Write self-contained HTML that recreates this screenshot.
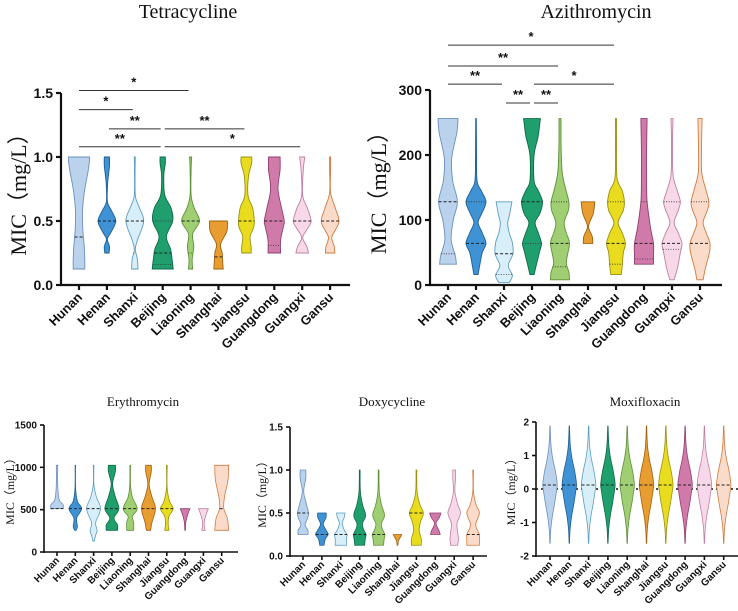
<!DOCTYPE html>
<html><head><meta charset="utf-8"><style>
body{margin:0;background:#fff;}
svg{display:block;}
.tl{font-family:"Liberation Sans",sans-serif;font-weight:bold;fill:#111;}
.tt{font-family:"Liberation Serif",serif;fill:#111;}
</style></head><body>
<svg id="s" width="738" height="611" viewBox="0 0 738 611" xmlns="http://www.w3.org/2000/svg"></svg>
<script>
const categories=["Hunan","Henan","Shanxi","Beijing","Liaoning","Shanghai","Jiangsu","Guangdong","Guangxi","Gansu"];
const fills=["#bad2ec","#3f92d4","#d8eef9","#1f9e6e","#9fcf72","#e89d30","#e9dc1e","#d07aa9","#f7d8e8","#fadac8"];
const strokes=["#6b8fbe","#1e5f95","#5c9cc2","#0f6a45","#5f8f3a","#a06010","#9a9010","#8f3f70","#c07fa0","#d07a40"];

const tetraProfiles=[
[[.125,.55],[.2,.55],[.3,.5],[.45,.35],[.6,.35],[.75,.55],[.88,.85],[.97,1],[1,1]],
[[.25,.2],[.3,.25],[.36,.05],[.42,.45],[.5,.85],[.58,.45],[.65,.05],[.8,.08],[.93,.25],[1,.25]],
[[.125,.3],[.2,.25],[.28,.05],[.35,.25],[.5,.85],[.62,.35],[.7,.05],[.9,.03],[1,.05]],
[[.125,1],[.2,.9],[.28,.75],[.38,.35],[.5,.95],[.6,.8],[.7,.2],[.85,.1],[.95,.25],[1,.25]],
[[.125,.2],[.2,.15],[.3,.3],[.4,.2],[.5,.85],[.6,.35],[.7,.05],[.9,.05],[1,.1]],
[[.125,.45],[.18,.4],[.25,.35],[.32,.2],[.42,.8],[.5,.85]],
[[.25,.45],[.3,.45],[.38,.35],[.45,.7],[.5,.75],[.6,.6],[.7,.15],[.85,.2],[.95,.5],[1,.5]],
[[.25,.6],[.35,.6],[.45,.85],[.5,.95],[.6,.7],[.75,.35],[.9,.55],[1,.55]],
[[.25,.6],[.3,.45],[.37,.05],[.44,.5],[.5,.85],[.6,.5],[.7,.05],[.9,.1],[1,.25]],
[[.25,.45],[.3,.4],[.37,.15],[.43,.5],[.5,.85],[.6,.5],[.72,.05],[.9,.05],[1,.05]]];
const tetraMedians=[.375,.5,.5,.25,.5,.22,.5,.5,.5,.5];
const tetraQuartiles=[[],[],[.25],[.16,.5],[.25],[],[],[.31],[],[]];

const aziProfiles=[
[[32,.8],[45,.7],[70,.3],[100,.5],[128,.9],[160,.45],[195,.35],[235,.85],[256,.95]],
[[16,.2],[30,.35],[50,.6],[64,.95],[80,.6],[96,.2],[110,.55],[128,.95],[145,.5],[160,.1],[200,.05],[256,.03]],
[[4,.5],[15,.8],[30,.4],[48,.85],[65,.8],[80,.5],[95,.35],[110,.55],[128,.75]],
[[16,.2],[30,.4],[50,.7],[64,.9],[80,.6],[96,.3],[110,.75],[128,1],[145,.6],[160,.2],[200,.2],[230,.6],[256,.8]],
[[8,.9],[20,.85],[35,.6],[64,.9],[80,.6],[96,.4],[115,.8],[128,.85],[150,.5],[175,.2],[220,.1],[256,.1]],
[[64,.45],[75,.4],[90,.05],[110,.5],[128,.65]],
[[16,.5],[30,.6],[50,.7],[64,.9],[80,.6],[96,.2],[115,.7],[128,.8],[145,.6],[165,.1],[220,.05],[256,.05]],
[[32,.9],[45,.9],[64,.9],[90,.6],[128,.3],[160,.25],[210,.25],[256,.3]],
[[8,.2],[25,.5],[50,.8],[64,.95],[80,.6],[96,.2],[115,.6],[128,.8],[145,.5],[170,.1],[220,.05],[256,.1]],
[[8,.3],[25,.5],[50,.9],[64,.95],[80,.6],[96,.3],[115,.7],[128,.85],[150,.5],[175,.15],[220,.15],[256,.2]]];
const aziMedians=[128,64,48,128,64,null,64,64,64,64];
const aziQuartiles=[[48],[128],[16],[64],[28,128],[],[32,128],[40,128],[55,128],[128]];

const eryProfiles=[
[[512,.9],[560,.85],[620,.3],[800,.1],[1024,.1]],
[[256,.1],[300,.3],[400,.2],[512,.9],[600,.3],[750,.05],[1024,.03]],
[[128,.1],[200,.3],[256,.5],[350,.3],[512,1],[650,.4],[800,.05],[1024,.05]],
[[256,.8],[320,.8],[400,.3],[512,1],[650,.5],[800,.1],[950,.5],[1024,.5]],
[[256,.5],[350,.5],[420,.3],[512,1],[650,.3],[800,.05],[1024,.05]],
[[256,.3],[350,.5],[512,1],[650,.5],[800,.1],[950,.4],[1024,.4]],
[[256,.3],[330,.2],[420,.3],[512,.9],[600,.4],[750,.05],[1024,.05]],
[[256,.05],[350,.1],[450,.4],[512,.7]],
[[256,.25],[330,.1],[420,.3],[512,.7]],
[[256,1],[400,.8],[512,.3],[650,.4],[850,.9],[1024,1]]];
const eryMedians=[512,512,512,512,512,512,512,null,null,512];

const doxyProfiles=[
[[.25,.7],[.3,.7],[.36,.3],[.45,.7],[.5,.8],[.6,.5],[.75,.1],[.9,.4],[1,.4]],
[[.125,.3],[.2,.5],[.25,.9],[.3,.6],[.37,.2],[.45,.6],[.5,.6]],
[[.125,.8],[.2,.8],[.25,.9],[.3,.5],[.38,.2],[.45,.5],[.5,.6]],
[[.125,.7],[.2,.8],[.25,.9],[.32,.5],[.38,.4],[.45,.8],[.5,.8],[.6,.4],[.75,.1],[1,.05]],
[[.125,.7],[.2,.8],[.25,.9],[.32,.5],[.38,.4],[.45,.8],[.5,.8],[.6,.4],[.75,.1],[1,.05]],
[[.125,.05],[.18,.15],[.23,.5],[.25,.6]],
[[.125,.7],[.2,.7],[.3,.4],[.4,.6],[.5,1],[.6,.5],[.75,.1],[1,.05]],
[[.25,.7],[.3,.5],[.38,.1],[.45,.6],[.5,.8]],
[[.125,.5],[.2,.6],[.28,.5],[.38,.4],[.5,.9],[.6,.5],[.75,.1],[.9,.2],[1,.2]],
[[.125,.9],[.2,.9],[.25,.9],[.32,.5],[.38,.4],[.5,.9],[.6,.4],[.75,.05],[1,.05]]];
const doxyMedians=[.5,.25,.25,.25,.25,null,.5,null,null,.25];

const moxProfile=[[-1.62,.02],[-1.2,.1],[-0.8,.3],[-0.4,.6],[0,.85],[0.15,.9],[0.5,.7],[0.9,.35],[1.3,.12],[1.88,.02]];
const moxMedians=[.12,.12,.12,.12,.12,.12,.12,.12,.12,.12];

const tetraTicks=[0,0.5,1.0,1.5], tetraTickLabels=["0.0","0.5","1.0","1.5"];
const aziTicks=[0,100,200,300], aziTickLabels=["0","100","200","300"];
const eryTicks=[0,500,1000,1500], eryTickLabels=["0","500","1000","1500"];
const doxyTicks=[0,0.5,1.0,1.5], doxyTickLabels=["0.0","0.5","1.0","1.5"];
const moxTicks=[-2,-1,0,1,2], moxTickLabels=["-2","-1","0","1","2"];

const tetraSig=[[0,4,1.52,"*"],[0,2,1.37,"*"],[1,3,1.22,"**"],[3,6,1.22,"**"],[0,3,1.08,"**"],[3,8,1.08,"*"]];
const aziSig=[[0,6,369,"*"],[0,4,337,"**"],[0,2,309,"**"],[3,6,309,"*"],[2,3,280,"**"],[3,4,280,"**"]];

const NS="http://www.w3.org/2000/svg", S=document.getElementById('s');
function el(tag,attrs,parent){const e=document.createElementNS(NS,tag);for(const k in attrs)e.setAttribute(k,attrs[k]);(parent||S).appendChild(e);return e;}

function catmull(pts){let d="";for(let i=0;i<pts.length-1;i++){const p0=pts[Math.max(0,i-1)],p1=pts[i],p2=pts[i+1],p3=pts[Math.min(pts.length-1,i+2)];
const c1=[p1[0]+(p2[0]-p0[0])/6,p1[1]+(p2[1]-p0[1])/6],c2=[p2[0]-(p3[0]-p1[0])/6,p2[1]-(p3[1]-p1[1])/6];
d+=` C${c1[0].toFixed(1)},${c1[1].toFixed(1)} ${c2[0].toFixed(1)},${c2[1].toFixed(1)} ${p2[0].toFixed(1)},${p2[1].toFixed(1)}`;}return d;}

function panel(cfg){
 const g=el('g',{});
 
 
 const y=v=>cfg.yBot-(v-cfg.vmin)/(cfg.vmax-cfg.vmin)*(cfg.yBot-cfg.yTop);
 const x=i=>cfg.cx0+i*cfg.dx;
 const t=el('text',{x:cfg.titleX,y:cfg.titleY,'text-anchor':'middle','font-size':cfg.titleSize,class:'tt'},g);t.textContent=cfg.title;
 
 
 const yl=el('text',{transform:`translate(${cfg.ylX},${(cfg.yTop+cfg.yBot)/2}) rotate(-90)`,'text-anchor':'middle','font-size':cfg.ylSize,class:'tt'},g);yl.textContent="MIC（mg/L）";
 
 
 if(cfg.zeroLine){const zl=el('line',{x1:cfg.ax,x2:738,y1:y(0),y2:y(0),stroke:'#111','stroke-width':1.6,'stroke-dasharray':'2,3'},g);
 
 }
 cfg.profiles.forEach((prof,i)=>{
  const cx=x(i);
  const right=prof.map(p=>[cx+p[1]*cfg.hw,y(p[0])]);
  const left=prof.slice().reverse().map(p=>[cx-p[1]*cfg.hw,y(p[0])]);
  let d=`M${cx},${y(prof[0][0])} L${right[0][0]},${right[0][1]}`+catmull(right)+` L${left[0][0]},${left[0][1]}`+catmull(left)+"Z";
  const p=el('path',{d,fill:fills[i],stroke:strokes[i],'stroke-width':cfg.sw},g);
  
  
  const wAt=v=>{for(let k=0;k<prof.length-1;k++){if(v>=prof[k][0]&&v<=prof[k+1][0]){const f=(v-prof[k][0])/(prof[k+1][0]-prof[k][0]);return prof[k][1]+f*(prof[k+1][1]-prof[k][1]);}}return 0;};
  const med=cfg.medians[i];
  if(med!=null){const w=wAt(med)*cfg.hw;const m=el('line',{x1:cx-w,x2:cx+w,y1:y(med),y2:y(med),stroke:'#222','stroke-width':1,'stroke-dasharray':'3,2'},g);
   
   }
  (cfg.quartiles?cfg.quartiles[i]:[]).forEach(q=>{const w=wAt(q)*cfg.hw;const m=el('line',{x1:cx-w,x2:cx+w,y1:y(q),y2:y(q),stroke:'#333','stroke-width':.8,'stroke-dasharray':'1,1.5'},g);
   
   });
 });
 const ya=el('line',{x1:cfg.ax,x2:cfg.ax,y1:cfg.yTop,y2:cfg.yBot+1,stroke:'#111','stroke-width':cfg.aw},g);
 
 
 const xa=el('line',{x1:cfg.ax-cfg.aw/2,x2:cfg.xEnd,y1:cfg.yBot,y2:cfg.yBot,stroke:'#111','stroke-width':cfg.aw},g);
 
 
 cfg.ticks.forEach((v,k)=>{el('line',{x1:cfg.ax-cfg.tk,x2:cfg.ax,y1:y(v),y2:y(v),stroke:'#111','stroke-width':cfg.aw},g);
  const tl=el('text',{x:cfg.ax-cfg.tk-3,y:y(v)+cfg.tickSize*0.35,'text-anchor':'end','font-size':cfg.tickSize,class:'tl'},g);tl.textContent=cfg.tickLabels[k];
  
  });
 categories.forEach((c,i)=>{el('line',{x1:x(i),x2:x(i),y1:cfg.yBot,y2:cfg.yBot+cfg.tk,stroke:'#111','stroke-width':cfg.aw},g);
  const lx=x(i)+cfg.lblDx, ly=cfg.yBot+cfg.tk+cfg.lblDy;
  const tl=el('text',{transform:`translate(${lx},${ly}) rotate(-45)`,'text-anchor':'end','font-size':cfg.lblSize,class:'tl'},g);tl.textContent=c;
  
  });
 (cfg.sig||[]).forEach(s=>{const yy=y(s[2]);const x1=x(s[0])+(s[0]>0?2:0),x2=x(s[1])-2;
  const l=el('line',{x1,x2,y1:yy,y2:yy,stroke:'#333','stroke-width':1},g);
  
  
  const st=el('text',{x:(x1+x2)/2,y:yy-4,'text-anchor':'middle','font-size':13,class:'tl'},g);st.textContent=s[3];
  
  });
}

panel({name:'tetracycline',title:'Tetracycline',titleX:188,titleY:18,titleSize:20,ylX:26,ylSize:22,vmin:0,vmax:1.5,yTop:93,yBot:285,ax:61,xEnd:350,cx0:79,dx:27.9,hw:10.5,sw:.9,aw:2.2,tk:5,tickSize:14,ticks:tetraTicks,tickLabels:tetraTickLabels,lblSize:13,lblDx:4,lblDy:8,profiles:tetraProfiles,medians:tetraMedians,quartiles:tetraQuartiles,sig:tetraSig});
panel({name:'azithromycin',title:'Azithromycin',titleX:596,titleY:18,titleSize:20,ylX:386,ylSize:22,vmin:0,vmax:300,yTop:90,yBot:285,ax:430,xEnd:722,cx0:448,dx:28,hw:10.5,sw:.9,aw:2.2,tk:5,tickSize:14,ticks:aziTicks,tickLabels:aziTickLabels,lblSize:13,lblDx:4,lblDy:8,profiles:aziProfiles,medians:aziMedians,quartiles:aziQuartiles,sig:aziSig});
panel({name:'erythromycin',title:'Erythromycin',titleX:143,titleY:406,titleSize:13,ylX:14,ylSize:12,vmin:0,vmax:1500,yTop:425,yBot:552,ax:44,xEnd:238,cx0:57,dx:18.3,hw:7,sw:.8,aw:1.6,tk:4,tickSize:10,ticks:eryTicks,tickLabels:eryTickLabels,lblSize:10,lblDx:3,lblDy:5,profiles:eryProfiles,medians:eryMedians});
panel({name:'doxycycline',title:'Doxycycline',titleX:392,titleY:406,titleSize:13,ylX:266,ylSize:12,vmin:0,vmax:1.5,yTop:427,yBot:556,ax:290,xEnd:487,cx0:303,dx:18.9,hw:7,sw:.8,aw:1.6,tk:4,tickSize:10,ticks:doxyTicks,tickLabels:doxyTickLabels,lblSize:10,lblDx:3,lblDy:5,profiles:doxyProfiles,medians:doxyMedians});
panel({name:'moxifloxacin',title:'Moxifloxacin',titleX:645,titleY:406,titleSize:13,ylX:515,ylSize:12,vmin:-2,vmax:2,yTop:422,yBot:556,ax:536,xEnd:738,cx0:550,dx:19.3,hw:8,sw:.8,aw:1.6,tk:4,tickSize:10,ticks:moxTicks,tickLabels:moxTickLabels,lblSize:10,lblDx:3,lblDy:5,zeroLine:true,profiles:categories.map(()=>moxProfile),medians:moxMedians});
</script>
</body></html>
